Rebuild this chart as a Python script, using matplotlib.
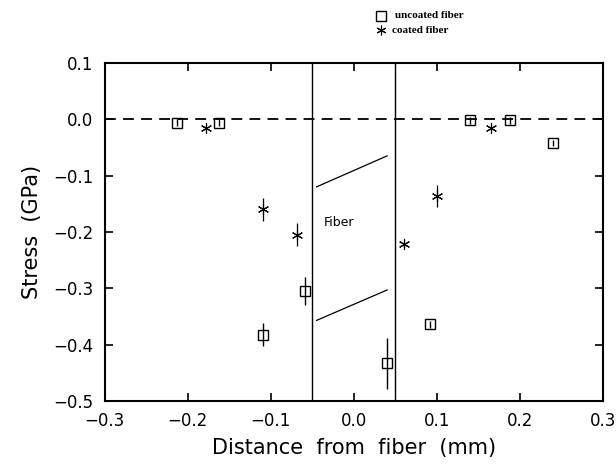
import numpy as np
import matplotlib.pyplot as plt
from matplotlib.lines import Line2D

# uncoated fiber (squares)
x_unc = [-0.213, -0.163, -0.110, -0.059, 0.040, 0.092, 0.140, 0.188, 0.240]
y_unc = [-0.006, -0.006, -0.382, -0.305, -0.433, -0.364, -0.002, -0.002, -0.042]
e_unc = [0.006, 0.006, 0.020, 0.025, 0.045, 0.006, 0.006, 0.006, 0.006]

# coated fiber (asterisks)
x_coat = [-0.178, -0.110, -0.068, 0.060, 0.100, 0.165]
y_coat = [-0.015, -0.160, -0.205, -0.222, -0.136, -0.015]
e_coat = [0.004, 0.020, 0.020, 0.006, 0.020, 0.004]

fiber_edges = [-0.05, 0.05]


def fmt(v, p):
    s = '%.1f' % v
    if abs(v) < 1e-9:
        s = '0.0'
    return s.replace('-', '\u2212')


fig = plt.figure(figsize=(6.16, 4.66), dpi=100)
ax = fig.add_axes([0.170, 0.1395, 0.809, 0.7255])

ax.axhline(0, color='k', ls=(0, (6, 4)), lw=1.3)
for xe in fiber_edges:
    ax.axvline(xe, color='k', lw=1.0)
ax.plot([-0.045, 0.040], [-0.120, -0.065], color='k', lw=0.9)
ax.plot([-0.045, 0.040], [-0.357, -0.303], color='k', lw=0.9)
ax.text(-0.036, -0.19, 'Fiber', fontsize=9, family='DejaVu Sans')

ax.errorbar(x_unc, y_unc, yerr=e_unc, fmt='s', mfc='none', mec='k', ms=7,
            ecolor='k', elinewidth=1.0, capsize=0, mew=1.0)
ax.errorbar(x_coat, y_coat, yerr=e_coat, fmt='none', ecolor='k', elinewidth=0.9, capsize=0)
ax.plot(x_coat, y_coat, ls='none', marker=(6, 2, 0), ms=8, mec='k', mew=0.8)

ax.set_xlim(-0.3, 0.3)
ax.set_ylim(-0.5, 0.1)
ax.set_xticks(np.arange(-0.3, 0.31, 0.1))
ax.set_yticks(np.arange(-0.5, 0.11, 0.1))
ax.xaxis.set_major_formatter(plt.FuncFormatter(fmt))
ax.yaxis.set_major_formatter(plt.FuncFormatter(fmt))
ax.tick_params(direction='in', top=True, right=True, length=6, width=1.2, labelsize=12, pad=8)
for sp in ax.spines.values():
    sp.set_linewidth(1.5)
ax.set_xlabel('Distance  from  fiber  (mm)', fontsize=15, labelpad=6)
ax.set_ylabel('Stress  (GPa)', fontsize=15, labelpad=8)

# legend above the axes
fig.add_artist(Line2D([0.618], [0.966], transform=fig.transFigure, ls='none', marker='s',
                      ms=7, mfc='none', mec='k', mew=1.0))
fig.add_artist(Line2D([0.618], [0.935], transform=fig.transFigure, ls='none', marker=(6, 2, 0),
                      ms=7, mec='k', mew=0.8))
fig.text(0.641, 0.966, 'uncoated fiber', fontsize=8, fontweight='bold', family='Liberation Serif', va='center')
fig.text(0.636, 0.935, 'coated fiber', fontsize=8, fontweight='bold', family='Liberation Serif', va='center')

plt.savefig('out.png')
